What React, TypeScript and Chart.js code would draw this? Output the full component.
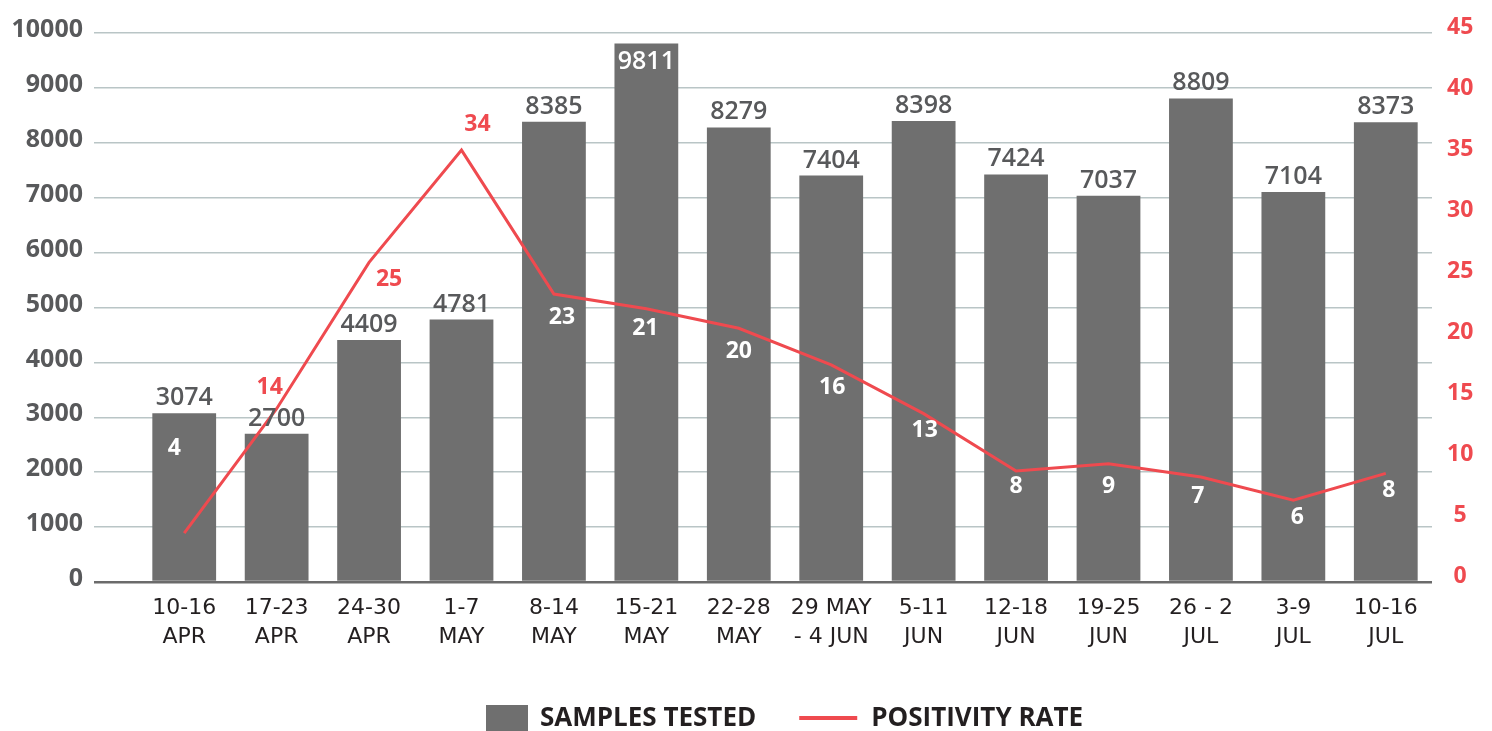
import React, { useEffect, useRef } from "react";
import { Chart, registerables } from "chart.js";

Chart.register(...registerables);

// ---------- data ----------
const categories: string[][] = [
  ["10-16", "APR"],
  ["17-23", "APR"],
  ["24-30", "APR"],
  ["1-7", "MAY"],
  ["8-14", "MAY"],
  ["15-21", "MAY"],
  ["22-28", "MAY"],
  ["29 MAY", "- 4 JUN"],
  ["5-11", "JUN"],
  ["12-18", "JUN"],
  ["19-25", "JUN"],
  ["26 - 2", "JUL"],
  ["3-9", "JUL"],
  ["10-16", "JUL"],
];
const samplesTested = [3074, 2700, 4409, 4781, 8385, 9811, 8279, 7404, 8398, 7424, 7037, 8809, 7104, 8373];
const positivityRate = [4.0, 14.2, 26.2, 35.4, 23.6, 22.4, 20.8, 17.8, 13.8, 9.1, 9.7, 8.6, 6.7, 8.9];
const positivityLabels = [4, 14, 25, 34, 23, 21, 20, 16, 13, 8, 9, 7, 6, 8];
const seriesNames = ["SAMPLES TESTED", "POSITIVITY RATE"];
const leftAxis = { min: 0, max: 10000, step: 1000 };
const rightAxis = { min: 0, max: 45, step: 5 };

// ---------- styling ----------
const BAR_COLOR = "#6f6f6f";
const RED = "#ef4a4f";
const GRID = "#b9c5c6";
const AXIS_TEXT = "#58595b";
const DARK_TEXT = "#231f20";
const FONT = "'Open Sans', 'DejaVu Sans', sans-serif";
const XFONT = "'DejaVu Sans', 'Open Sans', sans-serif";
// label offsets relative to each line point (dx, dy), in px
const lineLabelOffsets: number[][] = [
  [-10, -85], [-7, -21], [20, 17], [16, -26], [8, 23], [-1, 20], [0, 23],
  [1, 23], [1, 17], [0, 15], [0, 23], [-3, 19], [4, 17], [3, 17],
];
const LEGEND_LEFT = 486;
const LEGEND_Y = 718;

const valueLabelsPlugin = {
  id: "valueLabels",
  afterDatasetsDraw(chart: any) {
    const ctx = chart.ctx;
    const barMeta = chart.getDatasetMeta(0);
    const lineMeta = chart.getDatasetMeta(1);
    ctx.save();
    ctx.textAlign = "center";
    // bar value labels
    barMeta.data.forEach((bar: any, i: number) => {
      const top = bar.y;
      const inside = top - chart.chartArea.top < 30;
      ctx.font = `600 25px ${FONT}`;
      ctx.fillStyle = inside ? "#ffffff" : AXIS_TEXT;
      ctx.textBaseline = "alphabetic";
      ctx.fillText(String(samplesTested[i]), bar.x, inside ? top + 26 : top - 8);
    });
    // line value labels
    lineMeta.data.forEach((pt: any, i: number) => {
      const [dx, dy] = lineLabelOffsets[i] || [0, 20];
      const x = pt.x + dx;
      const y = pt.y + dy;
      const barTop = barMeta.data[i].y;
      ctx.font = `700 23px ${FONT}`;
      ctx.fillStyle = y < barTop ? RED : "#ffffff";
      ctx.textBaseline = "middle";
      ctx.fillText(String(positivityLabels[i]), x, y);
    });
    ctx.restore();
  },
};

const legendPlugin = {
  id: "customLegend",
  afterDraw(chart: any) {
    const ctx = chart.ctx;
    const ds = chart.data.datasets;
    ctx.save();
    ctx.font = `700 26px ${FONT}`;
    ctx.textBaseline = "middle";
    ctx.textAlign = "left";
    let x = LEGEND_LEFT;
    // bar item
    ctx.fillStyle = ds[0].backgroundColor;
    ctx.fillRect(x, LEGEND_Y - 13, 42, 26);
    x += 42 + 12;
    ctx.fillStyle = DARK_TEXT;
    ctx.fillText(ds[0].label, x, LEGEND_Y + 1);
    x += ctx.measureText(ds[0].label).width + 43;
    // line item
    ctx.strokeStyle = ds[1].borderColor;
    ctx.lineWidth = 4;
    ctx.beginPath();
    ctx.moveTo(x, LEGEND_Y);
    ctx.lineTo(x + 58, LEGEND_Y);
    ctx.stroke();
    x += 58 + 14;
    ctx.fillStyle = DARK_TEXT;
    ctx.fillText(ds[1].label, x, LEGEND_Y + 1);
    ctx.restore();
  },
};

export default function App() {
  const canvasRef = useRef<HTMLCanvasElement | null>(null);

  useEffect(() => {
    const canvas = canvasRef.current;
    if (!canvas) return;
    const chart = new Chart(canvas, {
      type: "bar",
      data: {
        labels: categories,
        datasets: [
          {
            type: "bar",
            label: seriesNames[0],
            data: samplesTested,
            backgroundColor: BAR_COLOR,
            barPercentage: 0.69,
            categoryPercentage: 1.0,
            yAxisID: "y",
            order: 1,
          },
          {
            type: "line",
            label: seriesNames[1],
            data: positivityRate,
            borderColor: RED,
            backgroundColor: RED,
            borderWidth: 3,
            pointRadius: 0,
            tension: 0,
            yAxisID: "y1",
            order: 0,
          },
        ] as any,
      },
      options: {
        responsive: false,
        animation: false,
        layout: { padding: { top: 33, left: 0, right: 0, bottom: 0 } },
        plugins: {
          legend: { display: false },
          tooltip: { enabled: false },
        },
        scales: {
          x: {
            grid: { display: false, drawTicks: false },
            border: { display: false },
            ticks: {
              font: { family: XFONT, size: 22, lineHeight: 1.3 },
              color: DARK_TEXT,
              padding: 12,
              maxRotation: 0,
              autoSkip: false,
            },
            afterFit: (s: any) => {
              s.height = 149;
            },
          },
          y: {
            position: "left",
            min: leftAxis.min,
            max: leftAxis.max,
            ticks: {
              stepSize: leftAxis.step,
              font: { family: FONT, size: 25, weight: "bold" },
              color: AXIS_TEXT,
              padding: 11,
              labelOffset: -3,
              callback: (v: any) => String(v),
            },
            grid: {
              color: (c: any) => (c.tick && c.tick.value === 0 ? "#6b6b6b" : GRID),
              lineWidth: (c: any) => (c.tick && c.tick.value === 0 ? 2.5 : 1.5),
              tickLength: 44,
              drawTicks: true,
            },
            border: { display: false },
            afterFit: (s: any) => {
              s.width = 138;
            },
          },
          y1: {
            position: "right",
            min: rightAxis.min,
            max: rightAxis.max,
            ticks: {
              stepSize: rightAxis.step,
              font: { family: FONT, size: 23, weight: "bold" },
              color: RED,
              padding: 15,
              labelOffset: -6,
              crossAlign: "center",
              callback: (v: any) => String(v),
            },
            grid: { display: false, drawTicks: false },
            border: { display: false },
            afterFit: (s: any) => {
              s.width = 60;
            },
          },
        },
      } as any,
      plugins: [valueLabelsPlugin, legendPlugin],
    });
    return () => chart.destroy();
  }, []);

  return (
    <div style={{ position: "fixed", left: 0, top: 0, width: 1492, height: 731, background: "#fff" }}>
      <canvas ref={canvasRef} width={1492} height={731} style={{ display: "block" }} />
    </div>
  );
}
